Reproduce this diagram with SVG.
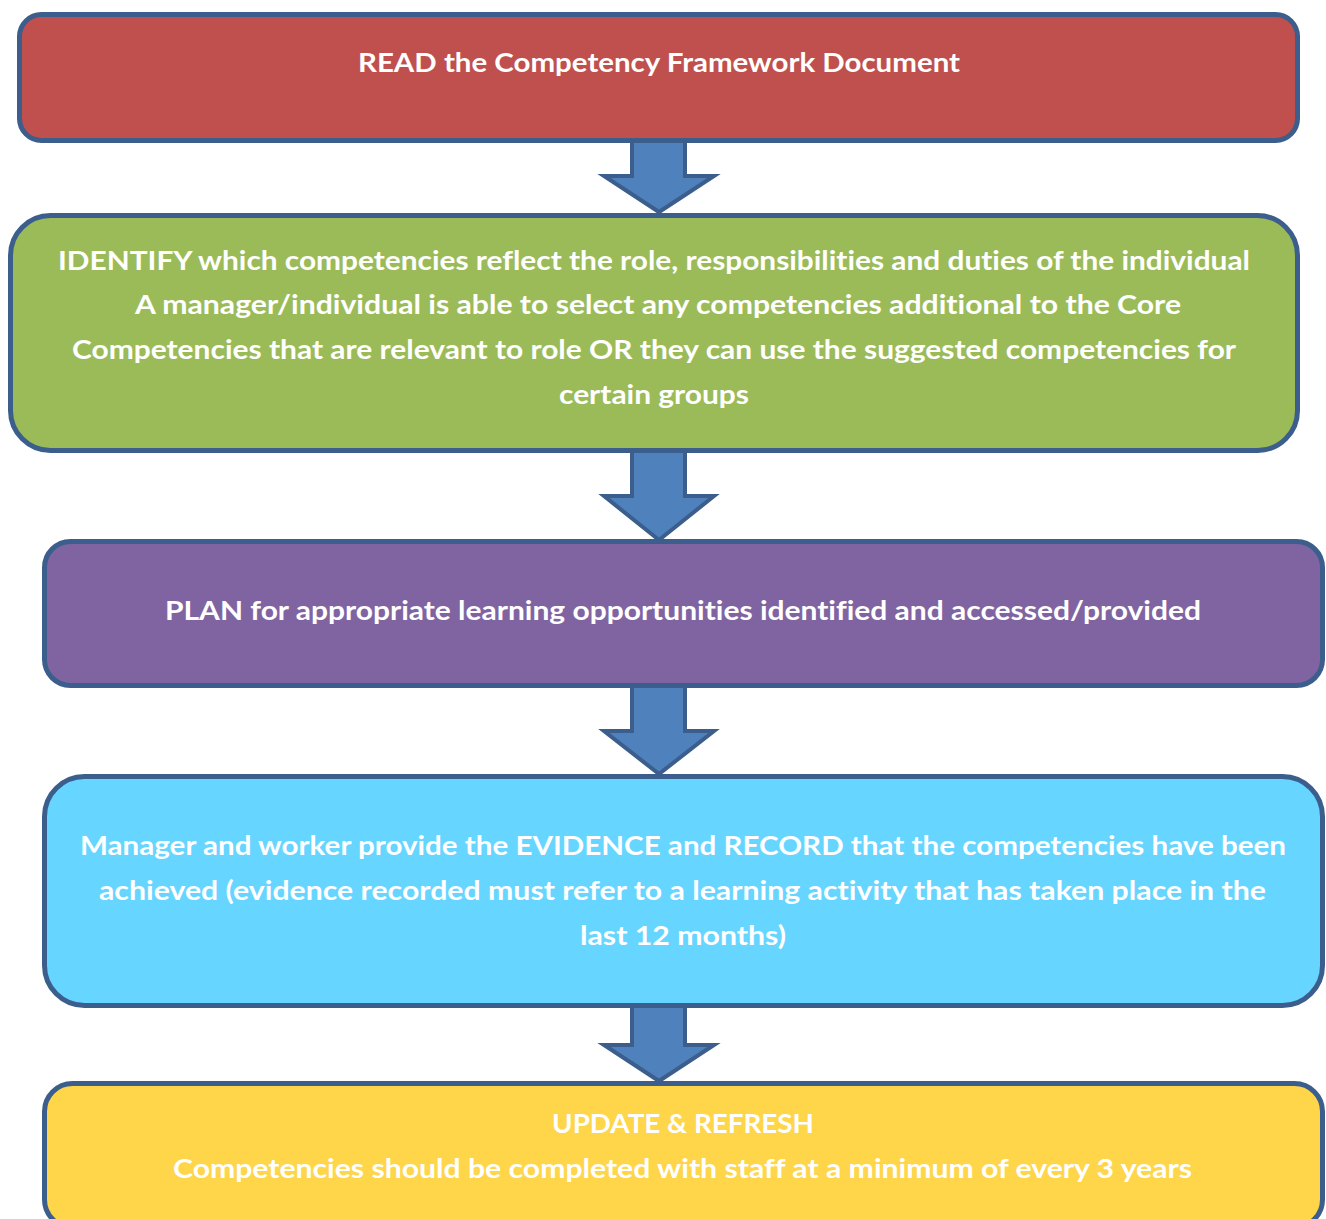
<svg xmlns="http://www.w3.org/2000/svg" width="1326" height="1219" viewBox="0 0 1326 1219">
<style>
.box{stroke:#3B5E8C;stroke-width:5}
.arrow{fill:#4F81BD;stroke:#3B5E8C;stroke-width:4;stroke-linejoin:miter}
text{font-family:"Lato","Carlito","Open Sans","Liberation Sans",sans-serif;font-weight:bold;font-size:27px;fill:#FFFFFF;text-anchor:middle;font-variant-ligatures:none}
</style>
<rect width="1326" height="1219" fill="#FFFFFF"/>
<g id="connectors">
<path class="arrow" d="M632,138 L685,138 L685,176 L714,176 L659,212 L604,176 L632,176 Z"/>
<path class="arrow" d="M632,448 L685,448 L685,496 L714,496 L659,540 L604,496 L632,496 Z"/>
<path class="arrow" d="M632,683 L685,683 L685,731 L714,731 L659,774 L604,731 L632,731 Z"/>
<path class="arrow" d="M632,1003 L685,1003 L685,1045 L714,1045 L659,1081 L604,1045 L632,1045 Z"/>
</g>
<g id="read">
<rect class="box" x="19.5" y="14.5" width="1278" height="126" rx="22" fill="#C0504D"/>
<text x="659" y="72" textLength="602" lengthAdjust="spacingAndGlyphs">READ the Competency Framework Document</text>
</g>
<g id="identify">
<rect class="box" x="10.5" y="215.5" width="1287" height="235" rx="40" fill="#9BBB59"/>
<text x="654" y="270" textLength="1192" lengthAdjust="spacingAndGlyphs">IDENTIFY which competencies reflect the role, responsibilities and duties of the individual</text>
<text x="658" y="314" textLength="1046" lengthAdjust="spacingAndGlyphs">A manager/individual is able to select any competencies additional to the Core</text>
<text x="654" y="359" textLength="1164" lengthAdjust="spacingAndGlyphs">Competencies that are relevant to role OR they can use the suggested competencies for</text>
<text x="654" y="404" textLength="190" lengthAdjust="spacingAndGlyphs">certain groups</text>
</g>
<g id="plan">
<rect class="box" x="44.5" y="541.5" width="1278" height="144" rx="26" fill="#8064A2"/>
<text x="683" y="620" textLength="1036" lengthAdjust="spacingAndGlyphs">PLAN for appropriate learning opportunities identified and accessed/provided</text>
</g>
<g id="evidence">
<rect class="box" x="44.5" y="776.5" width="1278" height="229" rx="40" fill="#66D5FF"/>
<text x="683" y="855" textLength="1206" lengthAdjust="spacingAndGlyphs">Manager and worker provide the EVIDENCE and RECORD that the competencies have been</text>
<text x="682.5" y="900" textLength="1167" lengthAdjust="spacingAndGlyphs">achieved (evidence recorded must refer to a learning activity that has taken place in the</text>
<text x="683" y="945" textLength="206" lengthAdjust="spacingAndGlyphs">last 12 months)</text>
</g>
<g id="update">
<rect class="box" x="44.5" y="1083.5" width="1278" height="144" rx="28" fill="#FFD54A"/>
<text x="683" y="1133" textLength="262" lengthAdjust="spacingAndGlyphs">UPDATE &amp; REFRESH</text>
<text x="682.5" y="1178" textLength="1019" lengthAdjust="spacingAndGlyphs">Competencies should be completed with staff at a minimum of every 3 years</text>
</g>
</svg>
